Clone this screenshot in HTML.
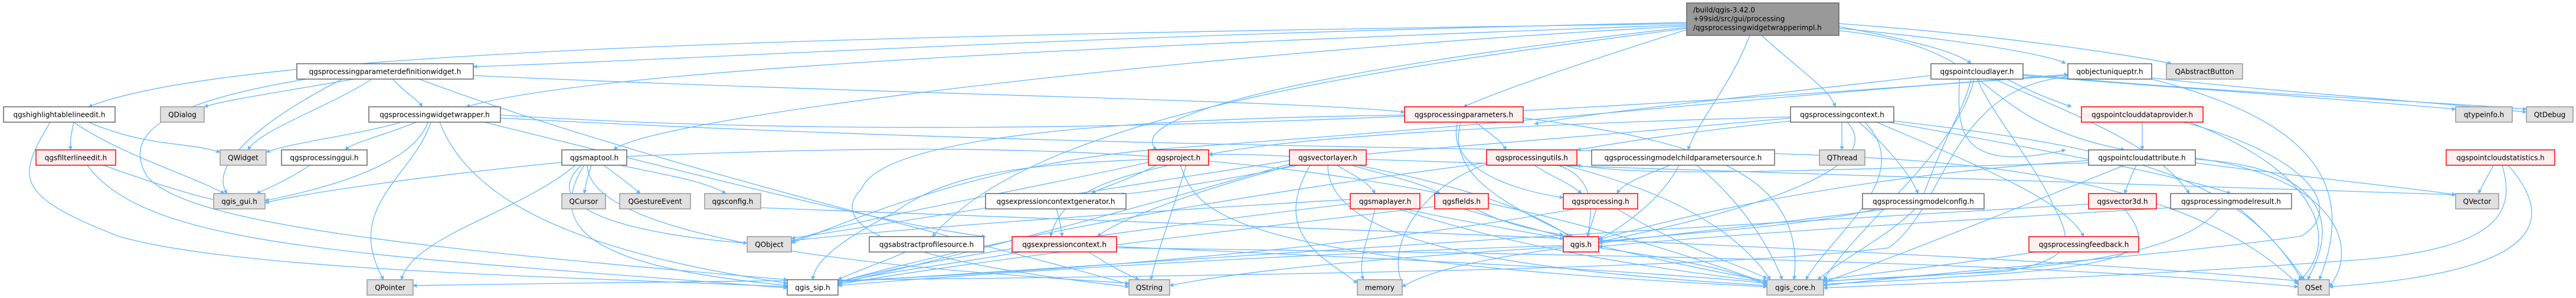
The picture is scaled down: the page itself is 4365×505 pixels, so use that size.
<!DOCTYPE html>
<html><head><meta charset="utf-8"><style>
html,body{margin:0;padding:0;background:#fff;}
svg{display:block;}
text{font-family:"DejaVu Sans","Liberation Sans",sans-serif;font-size:12px;fill:#000;}
.e{fill:none;stroke:#63b8ff;stroke-width:1.3;marker-end:url(#ah);}
.w{fill:#fff;stroke:#666;stroke-width:1.5;}
.g{fill:#e0e0e0;stroke:#999;stroke-width:1.5;}
.r{fill:#fff0f0;stroke:#f00;stroke-width:1.5;}
</style></head><body>
<svg width="4365" height="505" viewBox="0 0 4365 505" xmlns="http://www.w3.org/2000/svg">
<defs><marker id="ah" viewBox="0 0 10 10" refX="9" refY="5" markerWidth="7" markerHeight="7" orient="auto" markerUnits="userSpaceOnUse"><path d="M0,0 L10,5 L0,10 z" fill="#63b8ff"/></marker></defs>
<g>
<!-- from main -->
<path class="e" d="M2859,38 C1800,60 1200,100 802,113"/>
<path class="e" d="M2859,40 C1500,60 400,80 150,181"/>
<path class="e" d="M2859,42 C1800,80 1000,120 790,181"/>
<path class="e" d="M2859,44 C2000,90 1100,200 1040,254"/>
<path class="e" d="M2859,48 C2300,120 1750,200 1580,401"/>
<path class="e" d="M2859,50 C2700,100 2550,150 2480,181"/>
<path class="e" d="M2985,60 C3050,120 3100,150 3110,181"/>
<path class="e" d="M2965,60 C2930,150 2880,200 2860,254"/>
<path class="e" d="M3116,45 C3250,70 3320,90 3340,108"/>
<path class="e" d="M3116,48 C3350,70 3480,95 3500,108"/>
<path class="e" d="M3116,40 C3400,60 3620,95 3680,108"/>
<path class="e" d="M3116,52 C3400,80 3330,200 3600,254"/>
<path class="e" d="M2859,46 C2200,120 1900,200 1960,254"/>
<!-- B pdw -->
<path class="e" d="M600,134 C450,160 380,170 346,181"/>
<path class="e" d="M630,134 C560,180 440,220 420,254"/>
<path class="e" d="M580,134 C450,200 350,280 385,328"/>
<path class="e" d="M665,134 C690,160 710,170 715,181"/>
<path class="e" d="M520,134 C300,170 200,220 250,300 C320,380 700,420 1334,474"/>
<path class="e" d="M710,134 C1100,280 1700,420 1913,482"/>
<path class="e" d="M802,128 C1500,160 2200,170 2380,190"/>
<!-- C hle -->
<path class="e" d="M125,207 C120,230 118,240 120,254"/>
<path class="e" d="M150,207 C250,250 320,240 373,258"/>
<path class="e" d="M125,207 C200,260 330,300 380,328"/>
<path class="e" d="M85,207 C30,300 20,330 200,400 C400,460 1000,470 1334,486"/>
<!-- E pww -->
<path class="e" d="M680,207 C600,230 500,240 451,258"/>
<path class="e" d="M705,207 C650,230 600,240 585,254"/>
<path class="e" d="M725,207 C700,280 550,320 449,340"/>
<path class="e" d="M730,207 C700,300 580,350 650,474"/>
<path class="e" d="M745,207 C800,350 1000,430 1334,480"/>
<path class="e" d="M848,200 C1600,240 2300,250 3000,260 C3300,270 3700,290 3894,482"/>
<path class="e" d="M820,207 C1200,300 1500,380 1670,401"/>
<!-- F fle -->
<path class="e" d="M175,280 C230,300 320,330 370,340"/>
<path class="e" d="M148,280 C250,420 600,430 1334,488"/>
<!-- H pgui -->
<path class="e" d="M525,280 C480,310 450,320 435,328"/>
<!-- I maptool -->
<path class="e" d="M952,275 C700,300 500,330 449,344"/>
<path class="e" d="M1002,280 C995,300 992,315 990,328"/>
<path class="e" d="M1023,280 C1050,300 1070,315 1085,328"/>
<path class="e" d="M1050,280 C1150,300 1200,310 1230,328"/>
<path class="e" d="M985,280 C900,360 1100,400 1266,412"/>
<path class="e" d="M975,280 C880,360 700,400 680,474"/>
<path class="e" d="M990,280 C900,420 1100,460 1334,484"/>
<path class="e" d="M1062,265 C1700,240 2300,230 2994,480"/>
<path class="e" d="M995,280 C1000,420 1600,460 1913,480"/>
<!-- U project -->
<path class="e" d="M1960,280 C1900,310 1860,320 1850,328"/>
<path class="e" d="M1946,270 C1700,280 1600,300 1515,360 C1400,420 1380,450 1377,474"/>
<path class="e" d="M2000,280 C2030,360 2060,440 2994,486"/>
<path class="e" d="M1946,275 C1700,330 1400,380 1341,410"/>
<path class="e" d="M2010,280 C1980,380 1960,430 1950,474"/>
<path class="e" d="M1980,280 C1900,300 1800,320 1780,401"/>
<!-- V vectorlayer -->
<path class="e" d="M2185,265 C2100,260 2060,262 2048,262"/>
<path class="e" d="M2265,280 C2300,300 2320,310 2330,328"/>
<path class="e" d="M2290,280 C2360,300 2410,310 2440,328"/>
<path class="e" d="M2300,280 C2500,320 2600,360 2660,401"/>
<path class="e" d="M2250,280 C2250,420 2600,460 2994,484"/>
<path class="e" d="M2200,280 C2000,320 1900,330 1908,328"/>
<path class="e" d="M2190,280 C2000,330 1880,380 1860,401"/>
<path class="e" d="M2185,278 C1900,360 1600,440 1420,480"/>
<path class="e" d="M2220,280 C2150,400 2250,440 2300,480"/>
<path class="e" d="M2185,272 C1800,330 1500,380 1341,404"/>
<path class="e" d="M2315,270 C2400,270 2600,280 4161,330"/>
<!-- W params -->
<path class="e" d="M2500,207 C2530,230 2545,240 2552,254"/>
<path class="e" d="M2475,207 C2450,300 2560,350 2665,401"/>
<path class="e" d="M2470,207 C2450,280 2550,320 2649,335"/>
<path class="e" d="M2581,200 C2900,240 3060,300 3040,474"/>
<path class="e" d="M2380,195 C2000,200 1500,220 1460,320 C1400,380 1500,440 1913,486"/>
<!-- X ctx -->
<path class="e" d="M3121,207 C3121,225 3121,240 3121,254"/>
<path class="e" d="M3034,205 C2800,230 2700,250 2672,254"/>
<path class="e" d="M3150,207 C3200,250 3240,300 3250,328"/>
<path class="e" d="M3130,207 C3180,260 3100,330 2709,410"/>
<path class="e" d="M3160,207 C3250,300 3100,400 3060,474"/>
<path class="e" d="M3180,207 C3350,280 3500,340 3531,401"/>
<path class="e" d="M3200,207 C3500,260 3700,300 3780,328"/>
<path class="e" d="M3209,205 C3600,250 3800,300 3900,474"/>
<path class="e" d="M3034,198 C2600,210 2200,230 2048,262"/>
<path class="e" d="M3034,200 C2600,240 2300,260 2315,262"/>
<!-- Y putils -->
<path class="e" d="M2600,280 C2630,300 2660,310 2680,328"/>
<path class="e" d="M2640,280 C2700,300 2700,350 2690,401"/>
<path class="e" d="M2650,280 C2850,330 2950,400 3000,474"/>
<path class="e" d="M2519,278 C2400,320 2350,420 2376,480"/>
<path class="e" d="M2519,276 C2100,330 1700,400 1420,478"/>
<!-- Z mcps -->
<path class="e" d="M2830,280 C2780,300 2750,310 2740,328"/>
<path class="e" d="M2845,280 C2820,330 2760,380 2709,405"/>
<path class="e" d="M2875,280 C2950,340 3000,420 3020,474"/>
<!-- AB maplayer -->
<path class="e" d="M2380,354 C2500,380 2600,395 2649,405"/>
<path class="e" d="M2370,354 C2600,430 2850,460 2994,478"/>
<path class="e" d="M2288,345 C2000,380 1600,430 1420,478"/>
<path class="e" d="M2330,354 C2320,400 2300,440 2310,474"/>
<path class="e" d="M2288,338 C1900,360 1500,390 1341,408"/>
<!-- AC fields -->
<path class="e" d="M2500,354 C2550,380 2600,390 2649,398"/>
<path class="e" d="M2480,354 C2700,420 2900,460 2994,476"/>
<path class="e" d="M2431,350 C2000,400 1600,450 1420,482"/>
<!-- AD processing -->
<path class="e" d="M2705,354 C2700,370 2695,385 2690,401"/>
<path class="e" d="M2740,354 C2850,420 2950,450 2994,472"/>
<path class="e" d="M2670,354 C2300,420 1800,460 1420,476"/>
<!-- AE modelconfig -->
<path class="e" d="M3200,354 C3000,380 2850,395 2709,412"/>
<path class="e" d="M3245,354 C3200,400 3120,440 3080,474"/>
<!-- AF qgis -->
<path class="e" d="M2709,420 C2850,440 2950,460 2994,484"/>
<path class="e" d="M2650,420 C2500,440 2420,460 2376,486"/>
<path class="e" d="M2649,416 C2200,430 1700,460 1420,484"/>
<path class="e" d="M2649,418 C2300,440 2100,460 1982,484"/>
<!-- R -> S -->
<path class="e" d="M1790,354 C1795,370 1798,385 1800,401"/>
<!-- S exprctx -->
<path class="e" d="M1730,427 C1600,450 1500,460 1420,480"/>
<path class="e" d="M1845,427 C1880,450 1900,460 1930,474"/>
<path class="e" d="M1892,418 C2400,440 2800,460 2994,480"/>
<path class="e" d="M1892,420 C2600,430 3400,440 3894,486"/>
<!-- Q abstractprofile -->
<path class="e" d="M1535,427 C1480,450 1450,460 1420,474"/>
<!-- AI pcl -->
<path class="e" d="M3400,134 C3450,160 3480,170 3510,181"/>
<path class="e" d="M3428,128 C3700,150 4000,170 4161,185"/>
<path class="e" d="M3428,126 C3800,160 4100,170 4281,185"/>
<path class="e" d="M3340,134 C3330,180 3300,220 3260,328 C3150,380 2900,390 2709,410"/>
<path class="e" d="M3345,134 C3320,250 3150,380 3090,474"/>
<path class="e" d="M3350,134 C3380,200 3450,280 3480,350 C3520,420 3500,440 3400,460 C3200,470 3100,475 3090,478"/>
<path class="e" d="M3320,134 C3320,200 3300,300 3500,254"/>
<path class="e" d="M3272,128 C3000,160 2700,190 2600,210"/>
<path class="e" d="M3380,134 C3500,190 3650,240 3710,328"/>
<!-- AJ qobjectuniqueptr -->
<path class="e" d="M3646,132 C3900,160 4100,170 4281,190"/>
<path class="e" d="M3504,128 C3000,160 2700,200 2000,250 C1700,270 1500,350 1341,412"/>
<path class="e" d="M3504,130 C3300,150 3300,350 3200,420 C2800,470 1500,470 700,484"/>
<path class="e" d="M3646,134 C3900,200 4000,300 3930,474"/>
<!-- AL pcdp -->
<path class="e" d="M3630,207 C3630,225 3630,240 3630,254"/>
<path class="e" d="M3700,207 C3900,260 3980,350 3900,400 C3700,430 3300,460 3090,484"/>
<path class="e" d="M3710,207 C3950,300 3960,420 3894,478"/>
<!-- AO pcattr -->
<path class="e" d="M3620,280 C3610,300 3605,315 3600,328"/>
<path class="e" d="M3720,276 C3900,300 4100,320 4161,330"/>
<path class="e" d="M3720,270 C3900,280 3980,350 3910,474"/>
<path class="e" d="M3720,268 C3960,300 4000,420 3947,486"/>
<path class="e" d="M3600,280 C3400,360 3200,440 3090,478"/>
<path class="e" d="M3539,276 C3000,290 2800,300 2672,280"/>
<path class="e" d="M3539,272 C3100,300 2800,380 2709,406"/>
<!-- AP pcstats -->
<path class="e" d="M4225,280 C4215,300 4205,315 4200,328"/>
<path class="e" d="M4240,280 C4260,350 4250,420 4000,440 C3600,470 3300,478 3090,488"/>
<path class="e" d="M4250,280 C4320,360 4340,460 3947,486"/>
<!-- AQ vector3d -->
<path class="e" d="M3600,354 C3650,420 3650,450 3300,470 C3200,478 3100,480 3090,482"/>
<path class="e" d="M3539,346 C2900,380 2000,440 1420,478"/>
<!-- AR modelresult -->
<path class="e" d="M3760,354 C3700,430 3500,460 3090,476"/>
<path class="e" d="M3795,354 C3850,400 3880,440 3905,474"/>
<path class="e" d="M3678,352 C3200,380 2900,400 2709,418"/>
<!-- AT feedback -->
<path class="e" d="M3450,427 C3300,450 3200,460 3090,474"/>
<!-- M qgsconfig -->
<path class="e" d="M1289,352 C2000,380 3300,420 3894,476"/>
<!-- E other -->
<path class="e" d="M848,195 C1400,230 2200,230 3504,126"/>
</g>
<!-- nodes -->
<rect class="w" x="503" y="108" width="299" height="26"/><text x="652.5" y="125.5" text-anchor="middle">qgsprocessingparameterdefinitionwidget.h</text>
<rect class="w" x="6" y="181" width="189" height="26"/><text x="100.5" y="198.5" text-anchor="middle">qgshighlightablelineedit.h</text>
<rect class="g" x="272" y="181" width="74" height="26"/><text x="309" y="198.5" text-anchor="middle">QDialog</text>
<rect class="w" x="625" y="181" width="223" height="26"/><text x="736.5" y="198.5" text-anchor="middle">qgsprocessingwidgetwrapper.h</text>
<rect class="r" x="61" y="254" width="135" height="26"/><text x="128.5" y="271.5" text-anchor="middle">qgsfilterlineedit.h</text>
<rect class="g" x="373" y="254" width="78" height="26"/><text x="412" y="271.5" text-anchor="middle">QWidget</text>
<rect class="w" x="477" y="254" width="145" height="26"/><text x="549.5" y="271.5" text-anchor="middle">qgsprocessinggui.h</text>
<rect class="w" x="952" y="254" width="110" height="26"/><text x="1007" y="271.5" text-anchor="middle">qgsmaptool.h</text>
<rect class="g" x="362" y="328" width="87" height="26"/><text x="405.5" y="345.5" text-anchor="middle">qgis_gui.h</text>
<rect class="g" x="952" y="328" width="74" height="26"/><text x="989" y="345.5" text-anchor="middle">QCursor</text>
<rect class="g" x="1050" y="328" width="120" height="26"/><text x="1110" y="345.5" text-anchor="middle">QGestureEvent</text>
<rect class="g" x="1194" y="328" width="95" height="26"/><text x="1241.5" y="345.5" text-anchor="middle">qgsconfig.h</text>
<rect class="g" x="1266" y="401" width="75" height="26"/><text x="1303.5" y="418.5" text-anchor="middle">QObject</text>
<rect class="g" x="622" y="474" width="78" height="26"/><text x="661" y="491.5" text-anchor="middle">QPointer</text>
<rect class="w" x="1334" y="474" width="86" height="26"/><text x="1377" y="491.5" text-anchor="middle">qgis_sip.h</text>
<rect class="w" x="1473" y="401" width="194" height="26"/><text x="1570" y="418.5" text-anchor="middle">qgsabstractprofilesource.h</text>
<rect class="w" x="1670" y="328" width="238" height="26"/><text x="1789" y="345.5" text-anchor="middle">qgsexpressioncontextgenerator.h</text>
<rect class="r" x="1715" y="401" width="177" height="26"/><text x="1803.5" y="418.5" text-anchor="middle">qgsexpressioncontext.h</text>
<rect class="g" x="1913" y="474" width="69" height="26"/><text x="1947.5" y="491.5" text-anchor="middle">QString</text>
<rect class="r" x="1946" y="254" width="102" height="26"/><text x="1997" y="271.5" text-anchor="middle">qgsproject.h</text>
<rect class="r" x="2185" y="254" width="130" height="26"/><text x="2250" y="271.5" text-anchor="middle">qgsvectorlayer.h</text>
<rect class="r" x="2380" y="181" width="201" height="26"/><text x="2480.5" y="198.5" text-anchor="middle">qgsprocessingparameters.h</text>
<rect class="w" x="3034" y="181" width="175" height="26"/><text x="3121.5" y="198.5" text-anchor="middle">qgsprocessingcontext.h</text>
<rect class="r" x="2519" y="254" width="153" height="26"/><text x="2595.5" y="271.5" text-anchor="middle">qgsprocessingutils.h</text>
<rect class="w" x="2697" y="254" width="310" height="26"/><text x="2852" y="271.5" text-anchor="middle">qgsprocessingmodelchildparametersource.h</text>
<rect class="g" x="3083" y="254" width="77" height="26"/><text x="3121.5" y="271.5" text-anchor="middle">QThread</text>
<rect class="r" x="2288" y="328" width="118" height="26"/><text x="2347" y="345.5" text-anchor="middle">qgsmaplayer.h</text>
<rect class="r" x="2431" y="328" width="91" height="26"/><text x="2476.5" y="345.5" text-anchor="middle">qgsfields.h</text>
<rect class="r" x="2649" y="328" width="126" height="26"/><text x="2712" y="345.5" text-anchor="middle">qgsprocessing.h</text>
<rect class="w" x="3156" y="328" width="206" height="26"/><text x="3259" y="345.5" text-anchor="middle">qgsprocessingmodelconfig.h</text>
<rect class="r" x="2649" y="401" width="60" height="26"/><text x="2679" y="418.5" text-anchor="middle">qgis.h</text>
<rect class="g" x="2300" y="474" width="76" height="26"/><text x="2338" y="491.5" text-anchor="middle">memory</text>
<rect class="g" x="2994" y="474" width="96" height="26"/><text x="3042" y="491.5" text-anchor="middle">qgis_core.h</text>
<rect class="w" x="3272" y="108" width="156" height="26"/><text x="3350" y="125.5" text-anchor="middle">qgspointcloudlayer.h</text>
<rect class="w" x="3504" y="108" width="142" height="26"/><text x="3575" y="125.5" text-anchor="middle">qobjectuniqueptr.h</text>
<rect class="g" x="3671" y="108" width="129" height="26"/><text x="3735.5" y="125.5" text-anchor="middle">QAbstractButton</text>
<rect class="r" x="3527" y="181" width="206" height="26"/><text x="3630" y="198.5" text-anchor="middle">qgspointclouddataprovider.h</text>
<rect class="g" x="4161" y="181" width="96" height="26"/><text x="4209" y="198.5" text-anchor="middle">qtypeinfo.h</text>
<rect class="g" x="4281" y="181" width="79" height="26"/><text x="4320.5" y="198.5" text-anchor="middle">QtDebug</text>
<rect class="w" x="3539" y="254" width="181" height="26"/><text x="3629.5" y="271.5" text-anchor="middle">qgspointcloudattribute.h</text>
<rect class="r" x="4145" y="254" width="184" height="26"/><text x="4237" y="271.5" text-anchor="middle">qgspointcloudstatistics.h</text>
<rect class="r" x="3539" y="328" width="115" height="26"/><text x="3596.5" y="345.5" text-anchor="middle">qgsvector3d.h</text>
<rect class="w" x="3678" y="328" width="205" height="26"/><text x="3780.5" y="345.5" text-anchor="middle">qgsprocessingmodelresult.h</text>
<rect class="g" x="4161" y="328" width="73" height="26"/><text x="4197.5" y="345.5" text-anchor="middle">QVector</text>
<rect class="r" x="3438" y="401" width="186" height="26"/><text x="3531" y="418.5" text-anchor="middle">qgsprocessingfeedback.h</text>
<rect class="g" x="3894" y="474" width="53" height="26"/><text x="3920.5" y="491.5" text-anchor="middle">QSet</text>
<rect x="2858" y="5" width="258" height="55" fill="#999" stroke="#666" stroke-width="1.5"/>
<text x="2869" y="21">/build/qgis-3.42.0</text>
<text x="2869" y="36">+99sid/src/gui/processing</text>
<text x="2869" y="51">/qgsprocessingwidgetwrapperimpl.h</text>
</svg>
</body></html>
